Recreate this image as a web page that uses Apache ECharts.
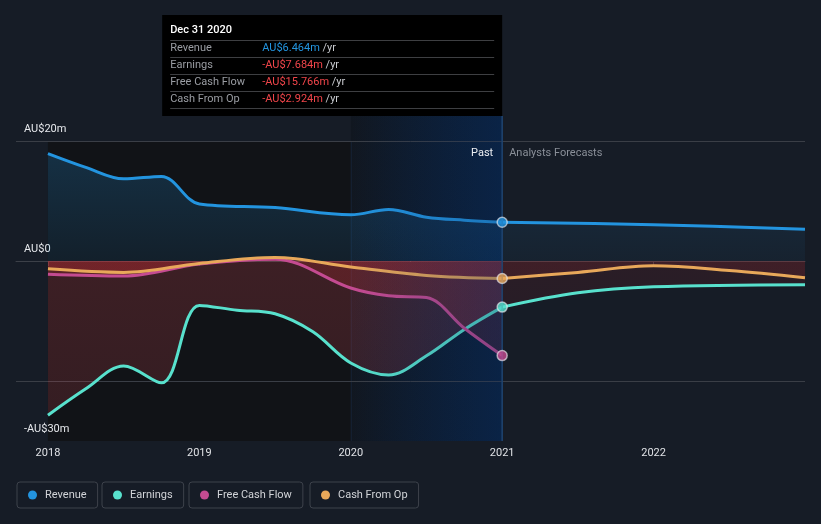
<!DOCTYPE html>
<html><head><meta charset="utf-8">
<script src="https://cdn.jsdelivr.net/npm/echarts@6/dist/echarts.min.js"></script>
<style>html,body{margin:0;padding:0;background:#161c26;}#c{width:821px;height:524px;}</style>
</head><body><div id="c"></div>
<script>
// ---- data ----
const yearTicks = [2018, 2019, 2020, 2021, 2022];
const yTickValues = [20, 0, -30];
const yTickLabels = {20: 'AU$20m', 0: 'AU$0', '-30': '-AU$30m'};

const revenuePastT = [2018, 2018.25, 2018.5, 2018.75, 2019, 2019.5, 2020, 2020.25, 2020.5, 2020.75, 2021];
const revenuePastV = [17.9, 15.6, 13.7, 14.1, 9.5, 8.9, 7.7, 8.6, 7.3, 6.8, 6.464];
const revenueFcT = [2021, 2022, 2023];
const revenueFcV = [6.464, 6.05, 5.3];

const earningsPastT = [2018, 2018.25, 2018.5, 2018.75, 2019, 2019.25, 2019.5, 2019.75, 2020, 2020.25, 2020.5, 2020.75, 2021];
const earningsPastV = [-25.7, -21.3, -17.5, -20.3, -7.4, -8.2, -8.8, -11.8, -17.0, -19.0, -15.8, -11.4, -7.684];
const earningsFcT = [2021, 2021.5, 2022, 2023];
const earningsFcV = [-7.684, -5.3, -4.3, -3.95];

const fcfPastT = [2018, 2018.5, 2019, 2019.5, 2020, 2020.25, 2020.5, 2020.75, 2021];
const fcfPastV = [-2.2, -2.5, -0.5, 0.3, -4.5, -5.8, -6.1, -11.2, -15.766];

const cfoPastT = [2018, 2018.5, 2019, 2019.5, 2020, 2020.5, 2021];
const cfoPastV = [-1.3, -1.9, -0.4, 0.6, -1.0, -2.4, -2.924];
const cfoFcT = [2021, 2021.5, 2022, 2022.5, 2023];
const cfoFcV = [-2.924, -1.9, -0.8, -1.6, -2.8];

const tipDate = 'Dec 31 2020';
const seriesNames = ['Revenue', 'Earnings', 'Free Cash Flow', 'Cash From Op'];

// ---- styles ----
const C = {Revenue: '#2394df', Earnings: '#58e1cd', 'Free Cash Flow': '#c44b91', 'Cash From Op': '#e8a85a'};
const FONT = 'Roboto';
const zip = (t, v) => t.map((x, i) => [x, v[i]]);
const grad = (a, b, rgb) => new echarts.graphic.LinearGradient(0, 0, 0, 1, [
  {offset: 0, color: 'rgba(' + rgb + ',' + a + ')'}, {offset: 1, color: 'rgba(' + rgb + ',' + b + ')'}]);
const BLUE = '35,148,223', PINKRED = '200,70,80', RED = '220,45,50', DEEPRED = '200,35,38';

const chart = echarts.init(document.getElementById('c'), null, {renderer: 'canvas'});

function pair(name, t, v, area) {
  const data = zip(t, v);
  return [
    {name, type: 'line', data, smooth: 0.35, symbol: 'none', z: 1, silent: true,
     itemStyle: {color: C[name]}, lineStyle: {width: 0, opacity: 0}, areaStyle: {color: area, origin: 0}},
    {name, type: 'line', data, smooth: 0.35, symbol: 'none', z: 3, silent: true,
     itemStyle: {color: C[name]}, lineStyle: {width: 3, color: C[name]}}
  ];
}
function marker(name, t, v) {
  return {name, type: 'scatter', z: 6, silent: true, symbol: 'circle', symbolSize: 10,
    itemStyle: {color: C[name], borderColor: 'rgba(235,235,240,0.8)', borderWidth: 1.5},
    data: [[t[t.length - 1], v[v.length - 1]]]};
}

const series = [].concat(
  pair('Revenue', revenuePastT, revenuePastV, grad(0.32, 0.14, BLUE)),
  pair('Revenue', revenueFcT, revenueFcV, grad(0.13, 0.07, BLUE)),
  pair('Earnings', earningsPastT, earningsPastV, grad(0.34, 0.28, PINKRED)),
  pair('Earnings', earningsFcT, earningsFcV, grad(0.16, 0.14, DEEPRED)),
  pair('Free Cash Flow', fcfPastT, fcfPastV, grad(0.26, 0.26, RED)),
  pair('Cash From Op', cfoPastT, cfoPastV, grad(0.26, 0.26, RED)),
  pair('Cash From Op', cfoFcT, cfoFcV, grad(0.16, 0.16, RED)),
  [marker('Revenue', revenuePastT, revenuePastV),
   marker('Earnings', earningsPastT, earningsPastV),
   marker('Free Cash Flow', fcfPastT, fcfPastV),
   marker('Cash From Op', cfoPastT, cfoPastV)]
);

const legendLeft = [17, 102, 189, 310];
const legends = seriesNames.map((n, i) => ({
  data: [n], left: legendLeft[i], top: 482, orient: 'horizontal',
  padding: [6, 11, 6, 11], borderColor: '#3d424b', borderWidth: 1, borderRadius: 3,
  itemWidth: 9, itemHeight: 9, icon: 'circle', selectedMode: true,
  textStyle: {color: '#d2d4d8', fontSize: 11, fontFamily: FONT, lineHeight: 14, padding: [0, 0, 0, 3]}
}));

const option = {
  backgroundColor: '#161c26',
  animation: false,
  grid: {left: 16, right: 16, top: 141, bottom: 83, containLabel: false},
  legend: legends,
  xAxis: {
    type: 'value', min: 2017.789, max: 2023,
    axisLine: {show: true, lineStyle: {color: '#3c4048', width: 1}},
    axisTick: {show: true, customValues: yearTicks, length: 5, lineStyle: {color: '#3c4048'}},
    axisLabel: {customValues: yearTicks, color: '#e0e2e6', fontSize: 11, fontFamily: FONT, margin: 7,
      formatter: v => String(Math.round(v))},
    splitLine: {show: false}
  },
  yAxis: {
    type: 'value', min: -30, max: 20, interval: 10,
    axisLine: {show: false}, axisTick: {show: false},
    axisLabel: {customValues: yTickValues, inside: true, margin: 8, align: 'left', verticalAlign: 'bottom',
      color: '#e6e8ec', fontSize: 11, fontFamily: FONT, lineHeight: 13, padding: [0, 0, 5, 0],
      formatter: v => yTickLabels[Math.round(v)]},
    splitLine: {show: true, lineStyle: {width: 1,
      color: ['rgba(0,0,0,0)', '#3a3e46', 'rgba(0,0,0,0)', '#f4f4f4', 'rgba(0,0,0,0)', '#3a3e46']}}
  },
  series
};
chart.setOption(option);

// ---- decorations positioned from axis scales ----
const px = (t, v) => chart.convertToPixel({gridIndex: 0}, [t, v]);
const xA = px(2018, 0)[0], xB = px(2020, 0)[0], xC = px(2021, 0)[0];
const yTop = px(2018, 20)[1], yBot = px(2018, -30)[1];
const tipW = 340, tipTop = 15, tipH = 101;
const tipL = xC - tipW, tipBottom = tipTop + tipH;
const fmt = v => (v < 0 ? '-' : '') + 'AU$' + Math.abs(v).toFixed(3) + 'm';
const lastVals = [revenuePastV, earningsPastV, fcfPastV, cfoPastV].map(a => a[a.length - 1]);

const els = [
  {type: 'rect', z: -1, shape: {x: xA, y: yTop, width: xB - xA, height: yBot - yTop}, style: {fill: '#111317'}},
  {type: 'rect', z: -1, shape: {x: xB, y: tipBottom, width: xC - xB, height: yBot - tipBottom},
   style: {fill: new echarts.graphic.LinearGradient(0, 0, 1, 0, [{offset: 0, color: '#111720'}, {offset: 1, color: '#0a1f39'}])}},
  {type: 'rect', z: 4, silent: true, shape: {x: xB, y: tipBottom, width: xC - xB, height: yBot - tipBottom},
   style: {fill: new echarts.graphic.LinearGradient(0, 0, 1, 0, [{offset: 0, color: 'rgba(10,45,100,0)'}, {offset: 1, color: 'rgba(10,45,100,0.3)'}])}},
  {type: 'line', z: -1, shape: {x1: xB + 0.5, y1: yTop, x2: xB + 0.5, y2: yBot}, style: {stroke: 'rgba(40,80,140,0.2)', lineWidth: 1}},
  {type: 'line', z: 5, shape: {x1: xC, y1: tipBottom, x2: xC, y2: yBot}, style: {stroke: '#1f4470', lineWidth: 1.5}},
  {type: 'text', z: 5, style: {text: 'Past', x: xC - 9, y: 153, align: 'right', verticalAlign: 'middle', fill: '#eceef2', font: '11px ' + FONT}},
  {type: 'text', z: 5, style: {text: 'Analysts Forecasts', x: xC + 7, y: 153, align: 'left', verticalAlign: 'middle', fill: '#8a8f98', font: '11px ' + FONT}},
  {type: 'rect', z: 50, shape: {x: tipL, y: tipTop, width: tipW, height: tipH}, style: {fill: '#000000'}},
  {type: 'text', z: 51, style: {text: tipDate, x: tipL + 8, y: 30.7, verticalAlign: 'middle', fill: '#ffffff', font: '500 11px ' + FONT}}
];
for (let i = 0; i < 5; i++) {
  const y = Math.round(40 + 17 * i) + 0.5;
  els.push({type: 'line', z: 51, shape: {x1: tipL + 8, y1: y, x2: tipL + 332, y2: y}, style: {stroke: '#3e3f42', lineWidth: 1}});
}
seriesNames.forEach((n, i) => {
  const y = 48.5 + 17 * i;
  const v = lastVals[i];
  els.push({type: 'text', z: 51, style: {text: n, x: tipL + 8, y, verticalAlign: 'middle', fill: '#9a9da3', font: '11px ' + FONT}});
  els.push({type: 'text', z: 51, style: {text: '{v|' + fmt(v) + '} {u|/yr}', x: tipL + 100, y, verticalAlign: 'middle', font: '11px ' + FONT,
    rich: {v: {fill: v < 0 ? '#f0454a' : '#2394df', font: '11px ' + FONT}, u: {fill: '#c8cacf', font: '11px ' + FONT}}}});
});
chart.setOption({graphic: {elements: els}});
</script></body></html>
